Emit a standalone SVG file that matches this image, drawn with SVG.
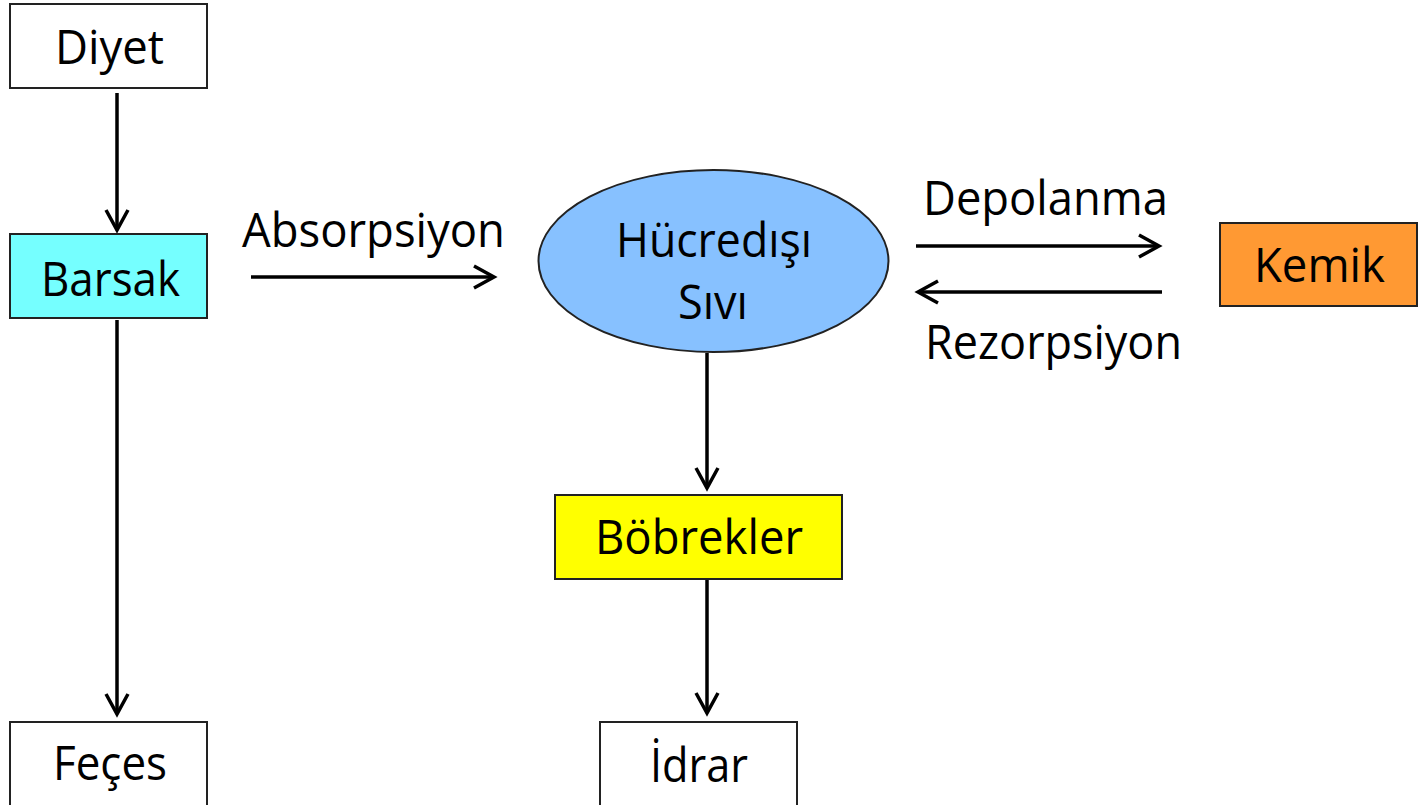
<svg xmlns="http://www.w3.org/2000/svg" width="1418" height="805" viewBox="0 0 1418 805">
  <defs>
    <marker id="arr" markerUnits="userSpaceOnUse" markerWidth="26" markerHeight="28" viewBox="0 0 26 28" refX="22" refY="14" orient="auto">
      <path d="M2,3 L22,14 L2,25" fill="none" stroke="#000" stroke-width="3.5" stroke-linejoin="miter"/>
    </marker>
    <style>
      .box { stroke: #222; stroke-width: 2; }
      .lbl { font-family: "Open Sans", "Noto Sans", "Liberation Sans", sans-serif; font-size: 47px; fill: #000; }
      .con { stroke: #000; stroke-width: 3.5; fill: none; marker-end: url(#arr); }
    </style>
  </defs>
  <rect width="1418" height="805" fill="#fff"/>

  <g id="connectors">
    <line class="con" x1="117" y1="93" x2="117" y2="230"/>
    <line class="con" x1="117" y1="320" x2="117" y2="714"/>
    <line class="con" x1="251" y1="277" x2="494" y2="277"/>
    <line class="con" x1="707" y1="353" x2="707" y2="488"/>
    <line class="con" x1="707" y1="580" x2="707" y2="713"/>
    <line class="con" x1="916" y1="246" x2="1159" y2="246"/>
    <line class="con" x1="1162" y1="292" x2="918" y2="292"/>
  </g>

  <g id="label-absorpsiyon">
    <text class="lbl" x="242" y="247" textLength="263" lengthAdjust="spacingAndGlyphs">Absorpsiyon</text>
  </g>
  <g id="label-depolanma">
    <text class="lbl" x="923" y="215" textLength="245" lengthAdjust="spacingAndGlyphs">Depolanma</text>
  </g>
  <g id="label-rezorpsiyon">
    <text class="lbl" x="925" y="359" textLength="257" lengthAdjust="spacingAndGlyphs">Rezorpsiyon</text>
  </g>

  <g id="diyet">
    <rect class="box" x="10" y="4" width="197" height="84" fill="#fff"/>
    <text class="lbl" x="55" y="64" textLength="109" lengthAdjust="spacingAndGlyphs">Diyet</text>
  </g>
  <g id="barsak">
    <rect class="box" x="10" y="234" width="197" height="84" fill="#75FFFF"/>
    <text class="lbl" x="41" y="296" textLength="139" lengthAdjust="spacingAndGlyphs">Barsak</text>
  </g>
  <g id="feces">
    <rect class="box" x="10" y="722" width="197" height="100" fill="#fff"/>
    <text class="lbl" x="53" y="780" textLength="114" lengthAdjust="spacingAndGlyphs">Feçes</text>
  </g>
  <g id="hucredisi-sivi">
    <ellipse class="box" cx="713.5" cy="261" rx="175" ry="91" fill="#87C1FF"/>
    <text class="lbl" x="616" y="257" textLength="196" lengthAdjust="spacingAndGlyphs">Hücredışı</text>
    <text class="lbl" x="678" y="319" textLength="70" lengthAdjust="spacingAndGlyphs">Sıvı</text>
  </g>
  <g id="bobrekler">
    <rect class="box" x="555" y="495" width="287" height="84" fill="#FFFF00"/>
    <text class="lbl" x="595" y="554" textLength="208" lengthAdjust="spacingAndGlyphs">Böbrekler</text>
  </g>
  <g id="idrar">
    <rect class="box" x="600" y="722" width="197" height="100" fill="#fff"/>
    <text class="lbl" x="650" y="782" textLength="98" lengthAdjust="spacingAndGlyphs">İdrar</text>
  </g>
  <g id="kemik">
    <rect class="box" x="1220" y="223" width="197" height="83" fill="#FF9933"/>
    <text class="lbl" x="1254" y="282" textLength="131" lengthAdjust="spacingAndGlyphs">Kemik</text>
  </g>
</svg>
